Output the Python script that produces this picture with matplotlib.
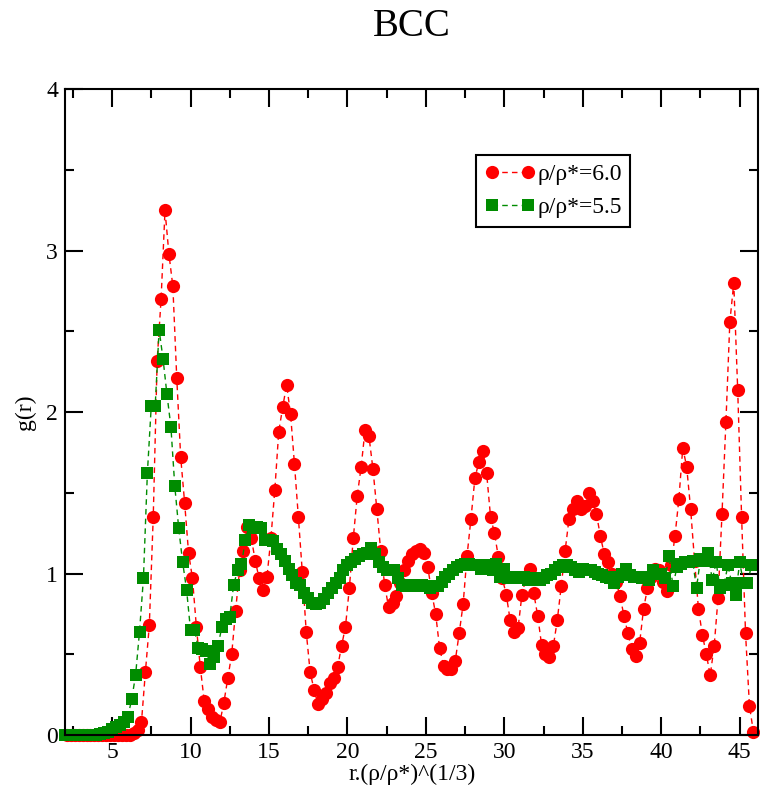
import numpy as np
import matplotlib
matplotlib.use("Agg")
import matplotlib.pyplot as plt
from matplotlib.ticker import MultipleLocator

plt.rcParams['font.family'] = ['Liberation Serif', 'DejaVu Serif']

# r-grid (r.(rho/rho*)^(1/3)), dr = 0.25
r_60 = np.arange(2.125, 46.0, 0.25)
r_55 = np.arange(2.0, 45.9, 0.25)

# g(r) for rho/rho* = 6.0
g_60 = [0, 0, 0, 0, 0, 0, 0, 0,
        0, 0, 0, 0, 0, 0, 0, 0,
        0.0, 0.01, 0.03, 0.08, 0.39, 0.68, 1.35, 2.32,
        2.70, 3.25, 2.98, 2.78, 2.21, 1.72, 1.44, 1.13,
        0.97, 0.67, 0.42, 0.21, 0.16, 0.11, 0.09, 0.08,
        0.20, 0.35, 0.50, 0.77, 1.02, 1.14, 1.29, 1.22,
        1.08, 0.97, 0.90, 0.98, 1.22, 1.52, 1.88, 2.03,
        2.17, 1.99, 1.68, 1.35, 1.01, 0.64, 0.39, 0.28,
        0.19, 0.22, 0.26, 0.32, 0.35, 0.42, 0.55, 0.67,
        0.91, 1.22, 1.48, 1.66, 1.89, 1.85, 1.65, 1.40,
        1.14, 0.93, 0.79, 0.82, 0.86, 0.94, 1.02, 1.08,
        1.12, 1.14, 1.15, 1.13, 1.04, 0.88, 0.75, 0.54,
        0.43, 0.41, 0.41, 0.46, 0.63, 0.81, 1.11, 1.34,
        1.59, 1.69, 1.76, 1.62, 1.35, 1.25, 1.10, 0.97,
        0.87, 0.71, 0.64, 0.66, 0.87, 0.97, 1.03, 0.88,
        0.74, 0.56, 0.50, 0.48, 0.55, 0.71, 0.92, 1.14,
        1.34, 1.40, 1.45, 1.40, 1.42, 1.50, 1.45, 1.37,
        1.23, 1.12, 1.07, 1.00, 0.95, 0.86, 0.74, 0.63,
        0.53, 0.49, 0.57, 0.78, 0.91, 0.98, 1.03, 1.02,
        0.95, 0.89, 1.05, 1.23, 1.46, 1.78, 1.66, 1.40,
        1.08, 0.78, 0.62, 0.50, 0.37, 0.55, 0.85, 1.37,
        1.94, 2.56, 2.80, 2.14, 1.35, 0.63, 0.18, 0.02]

# g(r) for rho/rho* = 5.5
g_55 = [0, 0, 0, 0, 0, 0, 0, 0,
        0, 0.005, 0.01, 0.02, 0.035, 0.05, 0.06, 0.08,
        0.11, 0.22, 0.37, 0.64, 0.97, 1.62, 2.04, 2.04,
        2.51, 2.33, 2.11, 1.91, 1.54, 1.28, 1.07, 0.90,
        0.65, 0.65, 0.54, 0.53, 0.52, 0.44, 0.48, 0.55,
        0.67, 0.72, 0.73, 0.93, 1.02, 1.06, 1.21, 1.30,
        1.28, 1.29, 1.28, 1.21, 1.21, 1.20, 1.15, 1.12,
        1.08, 1.03, 0.99, 0.94, 0.93, 0.88, 0.85, 0.82,
        0.81, 0.82, 0.84, 0.88, 0.91, 0.94, 0.97, 1.02,
        1.05, 1.07, 1.09, 1.11, 1.12, 1.13, 1.16, 1.12,
        1.07, 1.04, 1.02, 1.02, 1.02, 0.97, 0.93, 0.92,
        0.93, 0.92, 0.92, 0.93, 0.92, 0.91, 0.92, 0.92,
        0.95, 0.98, 1.00, 1.02, 1.04, 1.05, 1.06, 1.06,
        1.05, 1.05, 1.03, 1.05, 1.05, 1.02, 1.06, 0.98,
        1.03, 0.97, 0.97, 0.98, 0.97, 0.98, 0.96, 0.96,
        0.97, 0.96, 0.97, 0.99, 1.00, 1.02, 1.04, 1.05,
        1.05, 1.04, 1.02, 1.01, 1.03, 1.02, 1.02, 1.01,
        1.00, 0.99, 0.98, 0.97, 0.94, 0.98, 1.00, 1.03,
        0.99, 0.98, 0.98, 0.97, 0.98, 0.96, 1.02, 1.00,
        1.00, 0.97, 1.11, 0.92, 1.04, 1.06, 1.07, 1.07,
        1.08, 0.91, 1.09, 1.08, 1.13, 0.96, 1.07, 0.91,
        0.93, 1.05, 0.94, 0.87, 1.07, 0.94, 0.94, 1.05]

labels = ['ρ/ρ*=6.0', 'ρ/ρ*=5.5']

fig = plt.figure(figsize=(7.6, 7.98), dpi=100)
ax = fig.add_axes([0.0855, 0.079, 0.9125, 0.809])

ax.plot(r_60, g_60, '--o', color='#ff0000', lw=1.0, dashes=(4, 3),
        markersize=9.5, markeredgewidth=0, clip_on=False, label=labels[0])
ax.plot(r_55, g_55, '--s', color='#008c00', lw=1.0, dashes=(4, 3),
        markersize=8.5, markeredgewidth=0, clip_on=False, label=labels[1])

ax.set_xlim(2, 46.2)
ax.set_ylim(0, 4)
ax.xaxis.set_major_locator(MultipleLocator(5))
ax.xaxis.set_minor_locator(MultipleLocator(2.5))
ax.yaxis.set_major_locator(MultipleLocator(1))
ax.yaxis.set_minor_locator(MultipleLocator(0.5))
ax.tick_params(which='both', direction='in', top=True, right=True,
               labelsize=17, width=1.5)
ax.tick_params(which='major', length=13, pad=5)
ax.tick_params(which='minor', length=6.5)
for s in ax.spines.values():
    s.set_linewidth(1.5)

ax.set_xlabel('r.(ρ/ρ*)^(1/3)', fontsize=17, labelpad=1)
ax.set_ylabel('g(r)', fontsize=17, labelpad=7)
fig.suptitle('BCC', fontsize=28, x=0.542, y=0.99)

leg = ax.legend(loc='upper left', bbox_to_anchor=(0.593, 0.898), fontsize=17,
                numpoints=2, handlelength=2.15, handletextpad=0.1,
                labelspacing=0.5, borderpad=0.35, borderaxespad=0,
                fancybox=False, framealpha=1, edgecolor='black')
leg.get_frame().set_linewidth(1.5)

plt.savefig('out.png', dpi=100)
